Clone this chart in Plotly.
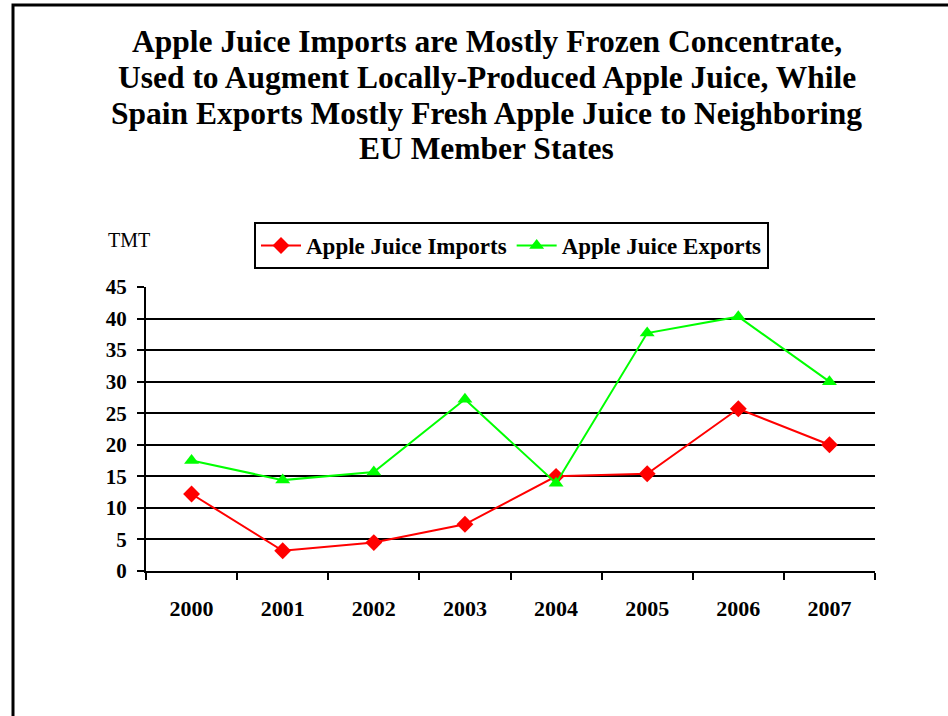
import plotly.graph_objects as go

years = ["2000", "2001", "2002", "2003", "2004", "2005", "2006", "2007"]
imports = [12.2, 3.2, 4.5, 7.4, 15.0, 15.4, 25.7, 20.0]
exports = [17.5, 14.4, 15.7, 27.2, 13.9, 37.7, 40.3, 30.0]
y_ticks = [0, 5, 10, 15, 20, 25, 30, 35, 40, 45]

title_lines = ["Apple Juice Imports are Mostly Frozen Concentrate,",
               "Used to Augment Locally-Produced Apple Juice, While",
               "Spain Exports Mostly Fresh Apple Juice to Neighboring",
               "EU Member States"]

serif = "Liberation Serif, Times New Roman, serif"

fig = go.Figure()
fig.add_trace(go.Scatter(
    x=years, y=imports, name="Apple Juice Imports", mode="lines+markers",
    line=dict(color="#FF0000", width=2),
    marker=dict(symbol="diamond", size=13, color="#FF0000"),
))
fig.add_trace(go.Scatter(
    x=years, y=exports, name="Apple Juice Exports", mode="lines+markers",
    line=dict(color="#00FF00", width=2),
    marker=dict(symbol="triangle-up", size=13, color="#00FF00"),
))

annotations = []
for i, line in enumerate(title_lines):
    annotations.append(dict(
        text="<b>" + line + "</b>", xref="paper", yref="paper",
        x=(486.5 - 146) / 729, y=(571 - (42 + 35.6 * i)) / 284,
        xanchor="center", yanchor="middle", showarrow=False,
        font=dict(family=serif, size=31.5, color="black")))
annotations.append(dict(text="TMT", xref="paper", yref="paper", x=(106 - 146) / 729,
                        y=(571 - 240) / 284, xanchor="left", yanchor="middle", showarrow=False,
                        font=dict(family=serif, size=20, color="black")))

fig.update_layout(
    width=948, height=716,
    margin=dict(l=146, r=73, t=287, b=145),
    paper_bgcolor="white", plot_bgcolor="white",
    font=dict(family=serif, color="black"),
    showlegend=True,
    legend=dict(orientation="h", x=(511.5 - 146) / 729, xanchor="center", y=(571 - 222) / 284,
                yanchor="top",
                bordercolor="black", borderwidth=2, bgcolor="white",
                font=dict(family=serif, size=23, color="black", weight="bold"),
                itemwidth=40, tracegroupgap=0),
    xaxis=dict(
        type="category", range=[-0.5, 7.5], showgrid=False, showline=True,
        linecolor="black", linewidth=2, ticks="outside", tickson="boundaries",
        ticklen=7, tickwidth=2, tickcolor="black", ticklabelstandoff=17,
        tickfont=dict(family=serif, size=22, color="black", weight="bold"),
        zeroline=False,
    ),
    yaxis=dict(
        range=[0, 45], tickvals=y_ticks, showgrid=True, gridcolor="black", gridwidth=2,
        showline=True, linecolor="black", linewidth=2, ticks="outside",
        ticklen=7, tickwidth=2, tickcolor="black", ticklabelstandoff=6,
        tickfont=dict(family=serif, size=21, color="black", weight="bold"),
        zeroline=False,
    ),
    annotations=annotations,
    shapes=[dict(type="rect", xref="paper", yref="paper",
                 x0=(13 - 146) / 729, x1=(960 - 146) / 729,
                 y0=(571 - 730) / 284, y1=(571 - 5) / 284,
                 line=dict(color="black", width=3), fillcolor="rgba(0,0,0,0)", layer="below")],
)

fig.write_html("out.html", post_script="document.body.style.margin='0';",
               config={"displayModeBar": False})
